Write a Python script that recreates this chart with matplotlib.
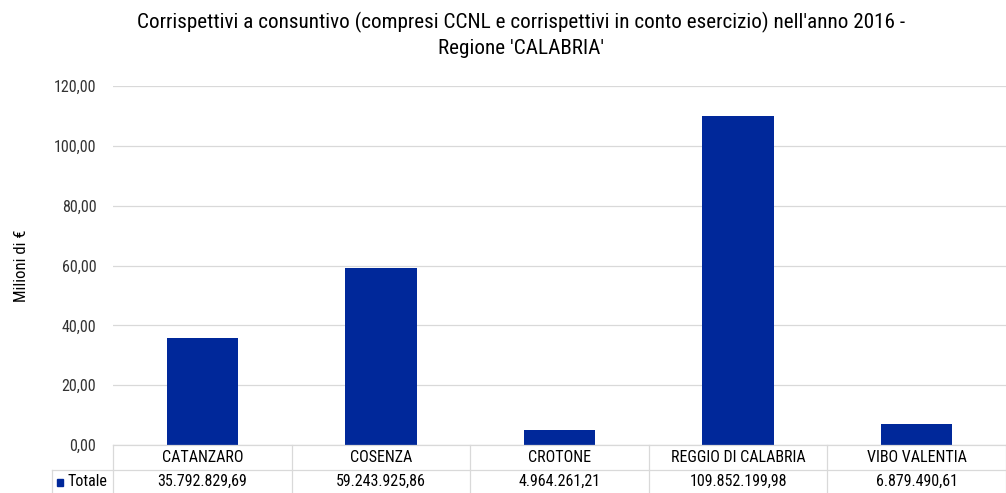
import matplotlib
matplotlib.use("Agg")
import matplotlib.pyplot as plt
from matplotlib.lines import Line2D
from matplotlib.patches import Rectangle

plt.rcParams['font.family'] = ['Roboto Condensed', 'Archivo Narrow', 'Barlow Condensed', 'DejaVu Sans']

provinces = ["CATANZARO", "COSENZA", "CROTONE", "REGGIO DI CALABRIA", "VIBO VALENTIA"]
totals_eur = [35792829.69, 59243925.86, 4964261.21, 109852199.98, 6879490.61]
yticks = [0, 20, 40, 60, 80, 100, 120]
series_name = "Totale"
bar_color = "#00289A"
grid_color = "#D9D9D9"


def it_fmt(v):
    s = f"{v:,.2f}"
    return s.replace(",", "X").replace(".", ",").replace("X", ".")


W, H = 1006, 493
fig = plt.figure(figsize=(W / 100, H / 100), dpi=100)

# plot area in pixels
x0, x1, ytop, ybot = 113, 1006, 86, 445
ax = fig.add_axes([x0 / W, 1 - ybot / H, (x1 - x0) / W, (ybot - ytop) / H])
vals = [v / 1e6 for v in totals_eur]
xs = list(range(len(provinces)))
ax.bar(xs, vals, width=0.4, color=bar_color, zorder=3)
ax.set_xlim(-0.5, len(provinces) - 0.5)
ax.set_ylim(0, 120)
ax.set_yticks(yticks)
ax.set_yticklabels([it_fmt(t) for t in yticks], fontsize=11.5, color="#333333")
ax.tick_params(axis="y", length=0, pad=12)
ax.set_xticks([])
ax.grid(axis="y", color=grid_color, lw=0.9, zorder=0)
for s in ax.spines.values():
    s.set_visible(False)
ax.set_ylabel("Milioni di €", fontsize=12, color="#000000", labelpad=18)

# title (centred a little right of the figure middle, as in the original)
tx = 521 / W
fig.text(tx, 1 - 22 / H,
         "Corrispettivi a consuntivo (compresi CCNL e corrispettivi in conto esercizio) nell'anno 2016 -",
         ha="center", va="center", fontsize=15.2)
fig.text(tx, 1 - 48 / H, "Regione 'CALABRIA'", ha="center", va="center", fontsize=15.2)


# data table
def fx(px):
    return px / W


def fy(py):
    return 1 - py / H


colw = (x1 - x0) / len(provinces)
row1, row2, row3 = 445, 470, 493
lw = 0.9
fig.add_artist(Line2D([fx(x0), fx(x1)], [fy(row1), fy(row1)], color=grid_color, lw=lw))
fig.add_artist(Line2D([fx(52), fx(x1)], [fy(row2), fy(row2)], color=grid_color, lw=lw))
fig.add_artist(Line2D([fx(52), fx(52)], [fy(row2), fy(row3)], color=grid_color, lw=lw))
for i in range(len(provinces) + 1):
    xp = x0 + i * colw
    fig.add_artist(Line2D([fx(xp), fx(xp)], [fy(row1), fy(row3)], color=grid_color, lw=lw))
for i, (name, v) in enumerate(zip(provinces, totals_eur)):
    xc = x0 + (i + 0.5) * colw
    fig.text(fx(xc), fy((row1 + row2) / 2), name, ha="center", va="center", fontsize=11.5)
    fig.text(fx(xc), fy((row2 + row3) / 2), it_fmt(v), ha="center", va="center", fontsize=11.5)
fig.add_artist(Rectangle((fx(57), fy(486)), 6 / W, 7 / H, transform=fig.transFigure,
                         color=bar_color))
fig.text(fx(67), fy((row2 + row3) / 2), series_name, ha="left", va="center", fontsize=11.5)

fig.savefig("out.png", dpi=100)
